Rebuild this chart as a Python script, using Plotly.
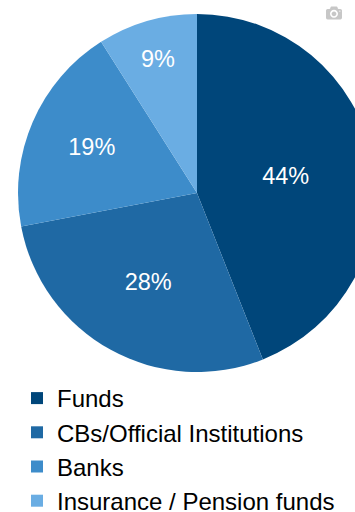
import plotly.graph_objects as go

categories = ["Funds", "CBs/Official Institutions", "Banks", "Insurance / Pension funds"]
shares = [44, 28, 19, 9]
colors = ["#00467A", "#1F69A4", "#3D8CCA", "#6AADE3"]

W, H = 380, 512
cx, cy, r = 197, 193, 179

fig = go.Figure(go.Pie(
    labels=categories,
    values=shares,
    sort=False,
    direction="clockwise",
    rotation=0,
    marker=dict(colors=colors, line=dict(width=0)),
    texttemplate="%{value}%",
    textposition="inside",
    insidetextorientation="horizontal",
    textfont=dict(color="white", size=23.5, family="Liberation Sans, Arial, sans-serif"),
    hoverinfo="label+percent",
    domain=dict(x=[(cx - r) / W, (cx + r) / W], y=[(H - cy - r) / H, (H - cy + r) / H]),
))

fig.update_layout(
    width=W, height=H,
    margin=dict(l=0, r=0, t=0, b=0, autoexpand=False),
    paper_bgcolor="white",
    plot_bgcolor="white",
    font=dict(family="Liberation Sans, Arial, sans-serif", color="black"),
    showlegend=True,
    legend=dict(
        x=17 / W, xanchor="left",
        y=(H - 376) / H, yanchor="top",
        font=dict(size=24, color="black"),
        bgcolor="rgba(0,0,0,0)",
        borderwidth=0,
    ),
)

fig.write_html(
    "out.html",
    post_script="document.body.style.margin='0';document.body.style.overflow='hidden';document.documentElement.style.overflow='hidden';",
)
